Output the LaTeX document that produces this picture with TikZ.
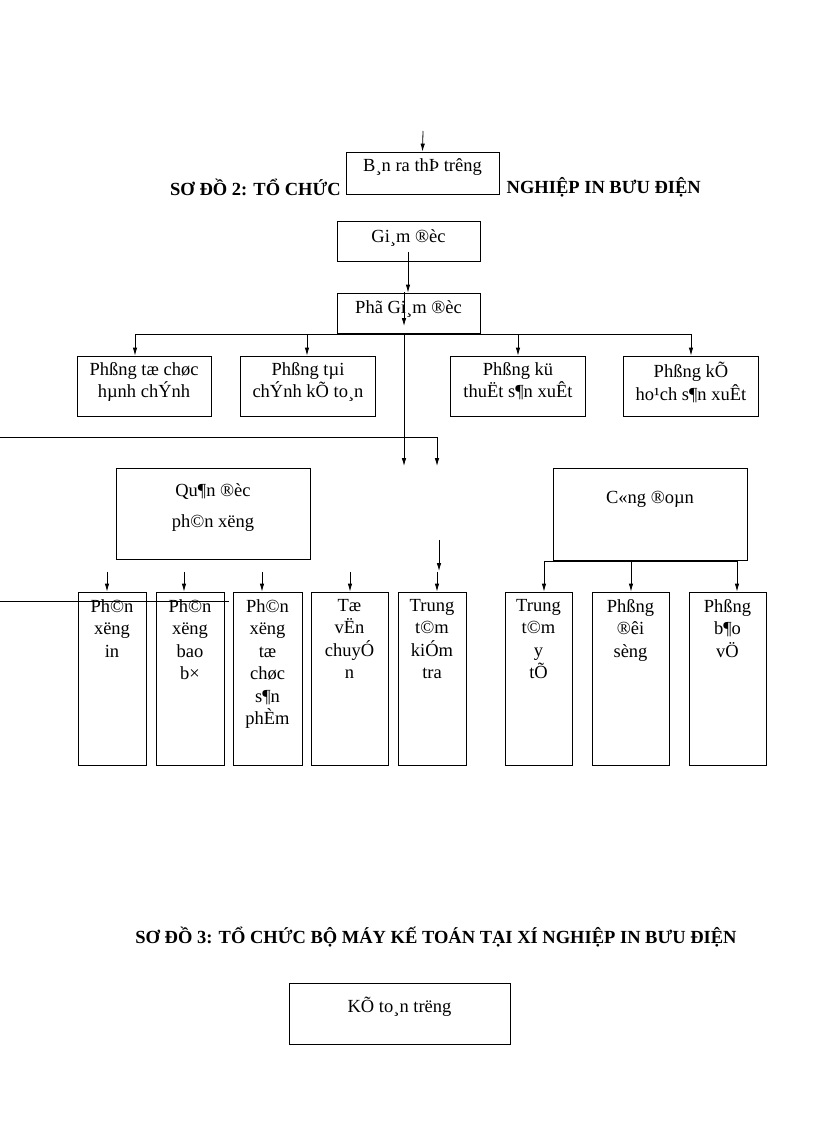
\documentclass[tikz,border=0pt]{standalone}
\usepackage{fontspec}
\setmainfont{Liberation Serif}
\usetikzlibrary{arrows.meta}
\begin{document}
\begin{tikzpicture}[x=1pt,y=-1pt,
  box/.style={draw,fill=white,line width=0.8pt,inner sep=0pt},
  txt/.style={font=\fontsize{18.5}{22.5}\selectfont,align=center,inner sep=0pt,anchor=north},
  ttl/.style={font=\bfseries\fontsize{18.5}{20}\selectfont,inner sep=0pt},
  arr/.style={-{Latex[length=8pt,width=4.5pt]},line width=0.8pt},
  ln/.style={line width=0.8pt}]
\useasboundingbox (0,0) rectangle (816,1123);
% title 2 (partly hidden)
\node[ttl,anchor=west] (t2a) at (170,187) {SƠ ĐỒ 2: TỔ CHỨC};
\node[ttl,anchor=east] (t2b) at (701,187) {NGHIỆP IN BƯU ĐIỆN};
% top row
\node[box,minimum width=153pt,minimum height=42pt] (ban) at (422.5,173) {};
\node[txt] at (422.5,158) {B¸n ra thÞ trêng};
\coordinate (top) at (423,131);
\draw[arr] (top) -- (ban.north);
\node[box,minimum width=143pt,minimum height=40pt] (gd) at (408.5,241) {};
\node[txt] at (408.5,229) {Gi¸m ®èc};
\node[box,minimum width=143pt,minimum height=40pt] (pgd) at (408.5,313) {};
\node[txt] at (408.5,300) {Phã Gi¸m ®èc};
\coordinate (g1) at (408,252);
\draw[arr] (g1) -- (pgd.north -| g1);
\coordinate (p1) at (404,292);\coordinate (p2) at (404,326);
\draw[arr] (p1) -- (p2);
% row 1
\node[box,minimum width=134pt,minimum height=60pt] (r1) at (144,386) {};
\node[txt] at (144,362) {Phßng tæ chøc\\hµnh chÝnh};
\node[box,minimum width=135pt,minimum height=60pt] (r2) at (308,386) {};
\node[txt] at (308,362) {Phßng tµi\\chÝnh kÕ to¸n};
\node[box,minimum width=135pt,minimum height=60pt] (r3) at (518,386) {};
\node[txt] at (518,362) {Phßng kü\\thuËt s¶n xuÊt};
\node[box,minimum width=135pt,minimum height=60pt] (r4) at (691,386) {};
\node[txt] at (691,362) {Phßng kÕ\\ho¹ch s¶n xuÊt};
\coordinate (h1) at (135,334);\coordinate (h2) at (691,334);
\draw[ln] (h1) -- (h2);
\draw[arr] (h1) -- (r1.north -| h1);
\draw[arr] (307,334) -- (r2.north -| 307,0);
\draw[arr] (518,334) -- (r3.north);
\draw[arr] (h2) -- (r4.north);
% centre lines
\coordinate (c1) at (404,334);\coordinate (c2) at (404,466);
\draw[arr] (c1) -- (c2);
\coordinate (l1) at (0,437);\coordinate (l2) at (437,437);\coordinate (l3) at (437,466);
\draw[ln] (l1) -- (l2);
\draw[arr] (l2) -- (l3);
% middle
\node[box,minimum width=194pt,minimum height=91pt] (qd) at (213,513.5) {};
\node[txt] at (213,483) {Qu¶n ®èc\\[9pt]ph©n xëng};
\node[box,minimum width=194pt,minimum height=92pt] (cd) at (650,514) {};
\node[txt] at (650,491) {C«ng ®oµn};
% bottom row
\foreach \n/\a/\b/\t in {b1/78/146/{Ph©n\\xëng\\in},b2/156/224/{Ph©n\\xëng\\bao\\b×},b3/233/302/{Ph©n\\xëng\\tæ\\chøc\\s¶n\\phÈm},b4/311/388/{Tæ\\vËn\\chuyÓ\\n},b5/398/466/{Trung\\t©m\\kiÓm\\tra},b6/505/572/{Trung\\t©m\\y\\tÕ},b7/592/669/{Phßng\\®êi\\sèng},b8/689/766/{Phßng\\b¶o\\vÖ}}{
  \node[box,minimum width=\b-\a,minimum height=173pt] (\n) at ({(\a+\b)/2},678.5) {};
  \node[txt] at ({(\a+\b)/2},599) {\t};
}
\foreach \x/\n in {107/b1,184/b2,262/b3,350/b4,437/b5}{
  \draw[arr] (\x,572) -- (\n.north -| \x,0);
}
\draw[arr] (439,540) -- (439,571);
\coordinate (m1) at (0,601);\coordinate (m2) at (229,601);
\draw[ln] (m1) -- (m2);
\coordinate (k1) at (544,561);\coordinate (k2) at (737,561);
\draw[ln] (k1) -- (k2);
\draw[arr] (k1) -- (b6.north -| k1);
\draw[arr] (631,561) -- (b7.north -| 631,0);
\draw[arr] (k2) -- (b8.north -| k2);
% title 3
\node[ttl] (t3) at (436,937) {SƠ ĐỒ 3: TỔ CHỨC BỘ MÁY KẾ TOÁN TẠI XÍ NGHIỆP IN BƯU ĐIỆN};
\node[box,minimum width=221pt,minimum height=61pt] (kt) at (399.5,1013.5) {};
\node[txt] at (399.5,997) {KÕ to¸n trëng};
\end{tikzpicture}
\end{document}
